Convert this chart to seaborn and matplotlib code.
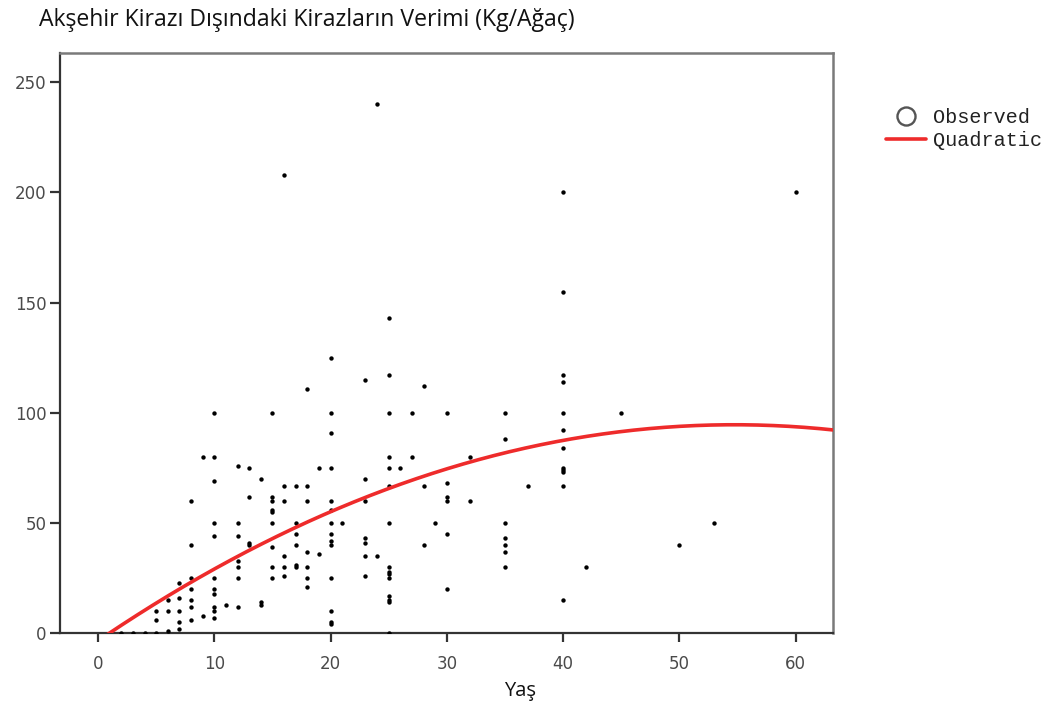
import numpy as np
import pandas as pd
import matplotlib
matplotlib.use("Agg")
import matplotlib.pyplot as plt
from matplotlib.lines import Line2D
import seaborn as sns

# Tree age (years) and yield (kg per tree), observed orchard records
age = [
    10, 9, 10, 12, 13, 14, 10, 13, 8, 10, 12, 10, 12, 13, 13, 8, 12, 12,
    12, 10, 8, 7, 8, 10, 10, 6, 7, 8, 8, 11, 12, 14, 14, 10, 10, 10,
    5, 6, 7, 9, 8, 5, 7, 7, 2, 3, 4, 5, 6,
    20, 18, 23, 25, 28, 15, 20, 25, 27, 30, 20, 25, 27, 19, 20, 25, 26,
    23, 16, 17, 18, 25, 28, 15, 15, 16, 18, 20, 23, 15, 15, 20,
    15, 17, 20, 21, 25, 29, 30, 17, 20, 20, 20, 23, 23, 28,
    15, 17, 18, 19, 16, 23, 24, 15, 16, 17, 17, 18, 25, 25, 25,
    16, 15, 18, 20, 23, 25, 18, 30, 25, 25, 25, 20, 20, 20, 25,
    40, 40, 35, 40, 45, 35, 32, 40, 40, 40, 40, 40, 30, 30, 30, 37, 40,
    32, 35, 35, 35, 35, 35, 42, 40,
    50, 53, 24, 16, 40, 40, 25, 60,
]
yield_kg = [
    100, 80, 80, 76, 75, 70, 69, 62, 60, 50, 50, 44, 44, 41, 40, 40, 33, 30,
    25, 25, 25, 23, 20, 20, 18, 15, 16, 15, 12, 13, 12, 14, 13, 12, 10, 7,
    10, 10, 10, 8, 6, 6, 5, 2, 0, 0, 0, 0, 1,
    125, 111, 115, 117, 112, 100, 100, 100, 100, 100, 91, 80, 80, 75, 75, 75, 75,
    70, 67, 67, 67, 67, 67, 62, 60, 60, 60, 60, 60, 56, 55, 56,
    50, 50, 50, 50, 50, 50, 45, 45, 45, 42, 40, 43, 41, 40,
    39, 40, 37, 36, 35, 35, 35, 30, 30, 31, 30, 30, 30, 28, 27,
    26, 25, 25, 25, 26, 25, 21, 20, 17, 15, 14, 10, 5, 4, 0,
    117, 114, 100, 100, 100, 88, 80, 92, 84, 75, 74, 73, 68, 62, 60, 67, 67,
    60, 50, 43, 40, 37, 30, 30, 15,
    40, 50, 240, 208, 200, 155, 143, 200,
]

# Quadratic fit: yield = b0 + b1*age + b2*age^2
quad_b0 = -3.4
quad_b1 = 3.58
quad_b2 = -0.0327

x_limits = (-3.27, 63.2)
y_limits = (0, 263.3)

observed = pd.DataFrame({"Yaş": age, "Verim": yield_kg})
curve_x = np.linspace(x_limits[0], x_limits[1], 300)
curve = pd.DataFrame({"Yaş": curve_x,
                      "Verim": quad_b0 + quad_b1 * curve_x + quad_b2 * curve_x ** 2})

sns.set_theme(style="white")
plt.rcParams["font.family"] = ["DejaVu Sans"]

fig = plt.figure(figsize=(10.51, 7.05), dpi=100)
ax = fig.add_axes([0.0571, 0.1017, 0.7352, 0.8235])

red = "#ee2b2b"
sns.scatterplot(data=observed, x="Yaş", y="Verim", ax=ax, color="black",
                s=10, linewidth=0, legend=False, zorder=3)
sns.lineplot(data=curve, x="Yaş", y="Verim", ax=ax, color=red,
             linewidth=2.6, legend=False, zorder=4, sort=False)

ax.set_xlim(*x_limits)
ax.set_ylim(*y_limits)
ax.set_xticks(range(0, 61, 10))
ax.set_yticks(range(0, 251, 50))
ax.tick_params(axis="both", which="major", direction="out", width=1.6,
               color="#333333", labelsize=12, labelcolor="#4a4a4a",
               bottom=True, left=True)
ax.tick_params(axis="y", length=7.5, pad=2)
ax.tick_params(axis="x", length=6.5, pad=9)
for side in ("left", "bottom"):
    ax.spines[side].set_color("#333333")
    ax.spines[side].set_linewidth(1.6)
for side in ("top", "right"):
    ax.spines[side].set_color("#7a7a7a")
    ax.spines[side].set_linewidth(1.8)

ax.set_ylabel("")
ax.set_xlabel("")
fig.text(0.495, 0.006, "Yaş", family=["Open Sans", "DejaVu Sans"], fontsize=14.5,
         color="#111111", ha="center", va="bottom")

fig.text(0.037, 0.988, "Akşehir Kirazı Dışındaki Kirazların Verimi (Kg/Ağaç)",
         family=["Open Sans", "DejaVu Sans"], fontsize=16.6, color="#111111",
         ha="left", va="top")

handles = [
    Line2D([], [], linestyle="none", marker="o", markersize=13,
           markerfacecolor="none", markeredgecolor="#555555", markeredgewidth=1.7),
    Line2D([], [], color=red, linewidth=2.6),
]
leg = fig.legend(handles, ["Observed", "Quadratic"], loc="upper left",
                 bbox_to_anchor=(0.835, 0.858), frameon=False,
                 prop={"family": "Liberation Mono", "size": 14.5},
                 handlelength=2.0, handletextpad=0.35, labelspacing=0.2,
                 borderaxespad=0)
for t in leg.get_texts():
    t.set_color("#222222")

fig.savefig("out.png", dpi=100)
